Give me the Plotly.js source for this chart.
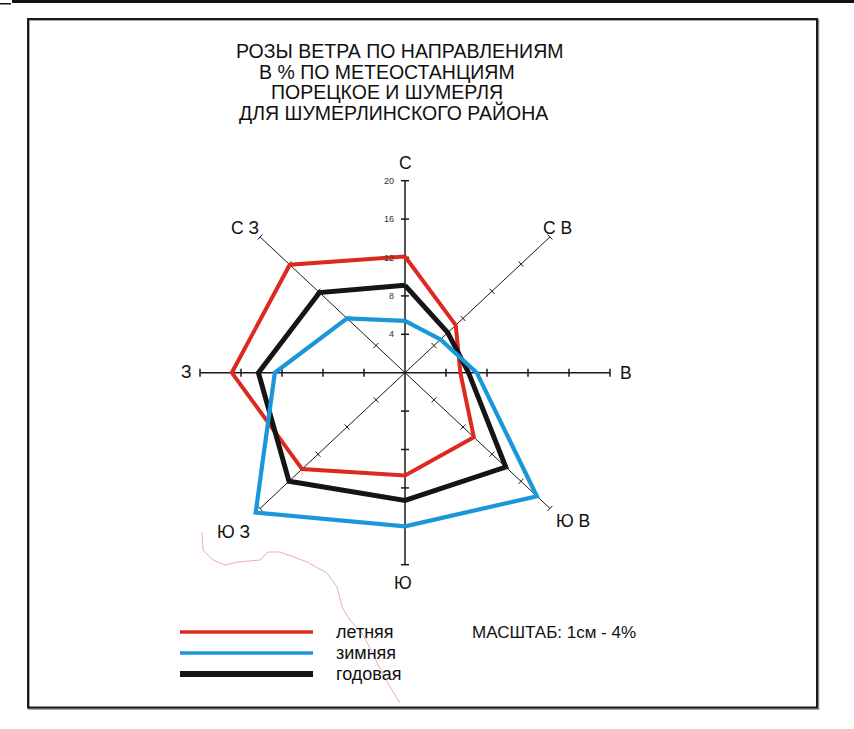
<!DOCTYPE html>
<html>
<head>
<meta charset="utf-8">
<script src="https://cdn.plot.ly/plotly-3.0.1.min.js"></script>
<style>
  html, body { margin: 0; padding: 0; background: #ffffff; }
  #chart { width: 854px; height: 729px; }
</style>
</head>
<body>
<div id="chart"></div>
<script>
// ---------- DATA ----------
const directions = ['С', 'С В', 'В', 'Ю В', 'Ю', 'Ю З', 'З', 'С З'];
const directionAngles = [0, 45, 90, 135, 180, 225, 270, 315]; // compass degrees
const summer = [12.1, 7.0, 5.4, 9.5, 10.7, 14.2, 16.9, 15.9];   // летняя
const winter = [5.4, 4.9, 7.0, 18.2, 16.0, 20.6, 12.7, 8.0];    // зимняя
const annual = [9.1, 5.9, 6.2, 13.9, 13.3, 16.0, 14.3, 11.8];   // годовая
const seriesNames = ['летняя', 'зимняя', 'годовая'];
const radialTicks = [4, 8, 12, 16, 20];
const radialTickLabels = ['4', '8', '12', '16', '20'];
const axisMax = 20;
const titleLines = ['РОЗЫ ВЕТРА ПО НАПРАВЛЕНИЯМ', 'В % ПО МЕТЕОСТАНЦИЯМ', 'ПОРЕЦКОЕ И ШУМЕРЛЯ', 'ДЛЯ ШУМЕРЛИНСКОГО РАЙОНА'];
const scaleNote = 'МАСШТАБ: 1см - 4%';

// ---------- LAYOUT GEOMETRY ----------
const W = 854, H = 729;
const cx = 405, cy = 372.7;   // centre of rose in px
const kx = 10.25, ky = 9.6;   // px per percent
const xRange = [-cx / kx, (W - cx) / kx];
const yRange = [-(H - cy) / ky, cy / ky];
const FONT = '"Liberation Sans", Arial, sans-serif';
const px = v => v / W;
const py = v => 1 - v / H;

const colors = { 'летняя': '#dc2a20', 'зимняя': '#1a97d8', 'годовая': '#151515' };
const widths = { 'летняя': 4, 'зимняя': 4.2, 'годовая': 5 };

const rad = d => d * Math.PI / 180;
const toXY = (r, deg) => [r * Math.sin(rad(deg)), r * Math.cos(rad(deg))];

// ---------- TRACES ----------
const traces = [];

// axes (lines + tick marks)
function axisTrace(idxList, lineW, tickHalfPx) {
  const xs = [], ys = [];
  idxList.forEach(i => {
    const a = directionAngles[i];
    const [ex, ey] = toXY(axisMax, a);
    xs.push(0, ex, null); ys.push(0, ey, null);
    const dxp = Math.sin(rad(a)) * kx, dyp = Math.cos(rad(a)) * ky;
    const n = Math.hypot(dxp, dyp);
    const pxp = -dyp / n * tickHalfPx, pyp = dxp / n * tickHalfPx;
    radialTicks.forEach(t => {
      const [tx, ty] = toXY(t, a);
      xs.push(tx - pxp / kx, tx + pxp / kx, null);
      ys.push(ty - pyp / ky, ty + pyp / ky, null);
    });
  });
  return { x: xs, y: ys, mode: 'lines', type: 'scatter', hoverinfo: 'skip',
           showlegend: false, line: { color: '#1a1a1a', width: lineW } };
}
traces.push(axisTrace([1, 3, 5, 7], 1.0, 3.5));
traces.push(axisTrace([0, 2, 4, 6], 1.5, 4));

function roseTrace(values, name) {
  const xs = [], ys = [];
  values.concat([values[0]]).forEach((v, k) => {
    const [x, y] = toXY(v, directionAngles[k % directionAngles.length]);
    xs.push(x); ys.push(y);
  });
  return { x: xs, y: ys, name: name, mode: 'lines', type: 'scatter', showlegend: false,
           line: { color: colors[name], width: widths[name], shape: 'linear' }, hoverinfo: 'name' };
}
traces.push(roseTrace(summer, seriesNames[0]));
traces.push(roseTrace(annual, seriesNames[2]));
traces.push(roseTrace(winter, seriesNames[1]));

// ---------- ANNOTATIONS ----------
const annotations = [];
const titleLeft = [234, 257, 269, 237];
const titleY = [51, 72, 92, 112];
titleLines.forEach((t, i) => annotations.push({
  text: t, xref: 'paper', yref: 'paper', x: px(titleLeft[i]), y: py(titleY[i]),
  xanchor: 'left', yanchor: 'middle', showarrow: false,
  font: { family: FONT, size: 19.5, color: '#111111' }
}));

const dirLabelPos = [[405, 163], [557, 228], [626, 373], [573, 521], [403, 583], [233, 532], [186, 372], [245, 228]];
directions.forEach((d, i) => annotations.push({
  text: d, xref: 'paper', yref: 'paper', x: px(dirLabelPos[i][0]), y: py(dirLabelPos[i][1]),
  xanchor: 'center', yanchor: 'middle', showarrow: false,
  font: { family: FONT, size: 17.5, color: '#111111' }
}));

radialTicks.forEach((t, i) => annotations.push({
  text: radialTickLabels[i], xref: 'x', yref: 'y', x: -0.85, y: t,
  xanchor: 'right', yanchor: 'middle', showarrow: false,
  font: { family: FONT, size: 9, color: '#333333' }
}));

const legendY = [632, 653, 674];
const legendOrder = [0, 1, 2];
legendOrder.forEach((k, i) => annotations.push({
  text: seriesNames[k], xref: 'paper', yref: 'paper', x: px(334), y: py(legendY[i]),
  xanchor: 'left', yanchor: 'middle', showarrow: false,
  font: { family: FONT, size: 18, color: '#111111' }
}));
annotations.push({
  text: scaleNote, xref: 'paper', yref: 'paper', x: px(470), y: py(632),
  xanchor: 'left', yanchor: 'middle', showarrow: false,
  font: { family: FONT, size: 17, color: '#111111' }
});

// ---------- SHAPES ----------
const shapes = [];
shapes.push({ type: 'rect', xref: 'paper', yref: 'paper', x0: px(12), x1: 1, y0: py(3), y1: 1,
  fillcolor: '#111', line: { width: 0 } });
shapes.push({ type: 'rect', xref: 'paper', yref: 'paper', x0: 0, x1: px(11), y0: py(4.5), y1: py(3),
  fillcolor: '#111', line: { width: 0 } });
shapes.push({ type: 'rect', xref: 'paper', yref: 'paper', x0: px(29), x1: px(818.5), y0: py(709), y1: py(20),
  line: { color: '#888', width: 1.5 }, fillcolor: 'rgba(0,0,0,0)' });
shapes.push({ type: 'rect', xref: 'paper', yref: 'paper', x0: px(28), x1: px(817), y0: py(707.5), y1: py(19),
  line: { color: '#1a1a1a', width: 2 }, fillcolor: 'rgba(0,0,0,0)' });
legendOrder.forEach((k, i) => shapes.push({
  type: 'line', xref: 'paper', yref: 'paper', x0: px(180), x1: px(313), y0: py(legendY[i]), y1: py(legendY[i]),
  line: { color: colors[seriesNames[k]], width: k === 2 ? 6 : 3.5 }
}));
// faint hand-drawn red scribble present on the scanned original
const scribble = [[202,532],[203,550],[213,560],[225,565],[238,562],[260,560],[268,552],[280,552],[307,562],[327,573],[337,587],[342,607],[350,620],[362,633],[372,652],[382,673],[392,690],[400,703]];
shapes.push({ type: 'path', xref: 'paper', yref: 'paper',
  path: 'M' + scribble.map(p => px(p[0]).toFixed(4) + ',' + py(p[1]).toFixed(4)).join(' L'),
  line: { color: 'rgba(220,110,110,0.55)', width: 1 } });

const layout = {
  width: W, height: H,
  margin: { l: 0, r: 0, t: 0, b: 0, pad: 0 },
  paper_bgcolor: '#ffffff', plot_bgcolor: 'rgba(0,0,0,0)',
  showlegend: false,
  xaxis: { range: xRange, visible: false, fixedrange: true },
  yaxis: { range: yRange, visible: false, fixedrange: true },
  annotations: annotations,
  shapes: shapes
};

Plotly.newPlot('chart', traces, layout, { staticPlot: true, displayModeBar: false });
</script>
</body>
</html>
